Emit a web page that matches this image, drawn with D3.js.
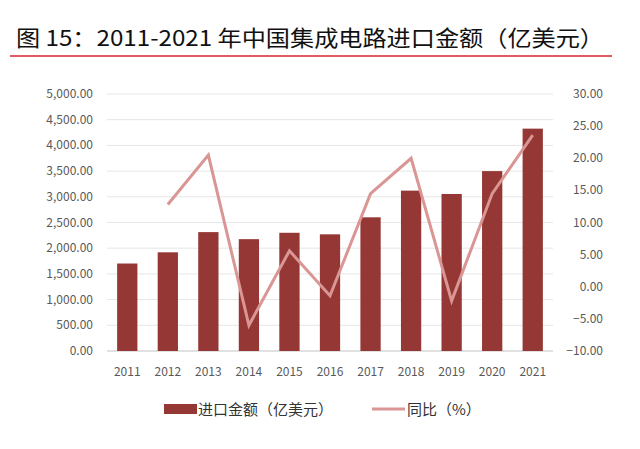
<html>
<head>
<script src="https://d3js.org/d3.v7.min.js"></script>
<style>body{margin:0;background:#fff;}</style>
</head>
<body>
<script>
var years = ["2011","2012","2013","2014","2015","2016","2017","2018","2019","2020","2021"];
var importValue = [1702, 1920, 2313, 2176, 2300, 2270, 2601, 3120, 3055, 3500, 4326];
var yoy = [null, 12.8, 20.5, -6.0, 5.6, -1.4, 14.5, 20.0, -2.2, 14.5, 23.6];
var leftTicks = [0, 500, 1000, 1500, 2000, 2500, 3000, 3500, 4000, 4500, 5000];
var rightTicks = [-10, -5, 0, 5, 10, 15, 20, 25, 30];

var svg = d3.select("body").append("svg").attr("width", 640).attr("height", 449);
var font = "'Noto Sans CJK SC',sans-serif";

svg.append("text").text("图 15：2011-2021 年中国集成电路进口金额（亿美元）")
  .attr("x", 16).attr("y", 46).attr("font-family", font)
  .attr("font-size", 22).attr("fill", "#111")
  .attr("textLength", 588).attr("lengthAdjust", "spacingAndGlyphs");
svg.append("line").attr("x1", 10).attr("x2", 612).attr("y1", 56).attr("y2", 56)
  .attr("stroke", "#d9262c").attr("stroke-width", 1.5);

var x = d3.scaleBand().domain(years).range([107, 553]).paddingInner(0.5).paddingOuter(0.25);
var yL = d3.scaleLinear().domain([0, 5000]).range([351, 94]);
var yR = d3.scaleLinear().domain([-10, 30]).range([351, 94]);

svg.append("g").selectAll("line").data(leftTicks).enter().append("line")
  .attr("x1", 107).attr("x2", 553).attr("y1", d => yL(d)).attr("y2", d => yL(d))
  .attr("stroke", "#e6e6e6").attr("stroke-width", 1);
svg.append("line").attr("x1", 107).attr("x2", 553).attr("y1", yL(0)).attr("y2", yL(0))
  .attr("stroke", "#cfcfcf");

svg.append("g").selectAll("text").data(leftTicks).enter().append("text")
  .attr("x", 93).attr("y", d => yL(d) + 4).attr("text-anchor", "end")
  .attr("font-family", font).attr("font-size", 12).attr("fill", "#595959")
  .text(d => d3.format(",.2f")(d));
svg.append("g").selectAll("text").data(rightTicks).enter().append("text")
  .attr("x", 603).attr("y", d => yR(d) + 4).attr("text-anchor", "end")
  .attr("font-family", font).attr("font-size", 12).attr("fill", "#595959")
  .text(d => d3.format(".2f")(d));

svg.append("g").selectAll("text").data(years).enter().append("text")
  .attr("x", d => x(d) + x.bandwidth() / 2).attr("y", 376).attr("text-anchor", "middle")
  .attr("font-family", font).attr("font-size", 12).attr("fill", "#595959").text(d => d);

svg.append("g").selectAll("rect").data(importValue).enter().append("rect")
  .attr("x", (d, i) => x(years[i])).attr("width", x.bandwidth())
  .attr("y", d => yL(d)).attr("height", d => yL(0) - yL(d)).attr("fill", "#953735");

var pts = yoy.map((v, i) => ({y: years[i], v: v})).filter(d => d.v !== null);
svg.append("path").datum(pts)
  .attr("d", d3.line().x(d => x(d.y) + x.bandwidth() / 2).y(d => yR(d.v)))
  .attr("fill", "none").attr("stroke", "#d99694").attr("stroke-width", 3);

// legend
svg.append("rect").attr("x", 164).attr("y", 404).attr("width", 33).attr("height", 10).attr("fill", "#953735");
svg.append("text").text("进口金额（亿美元）").attr("x", 198).attr("y", 415)
  .attr("font-family", font).attr("font-size", 15).attr("fill", "#333");
svg.append("line").attr("x1", 372).attr("x2", 405).attr("y1", 409).attr("y2", 409)
  .attr("stroke", "#d99694").attr("stroke-width", 3);
svg.append("text").text("同比（%）").attr("x", 407).attr("y", 415)
  .attr("font-family", font).attr("font-size", 15).attr("fill", "#333");
</script>
</body>
</html>
